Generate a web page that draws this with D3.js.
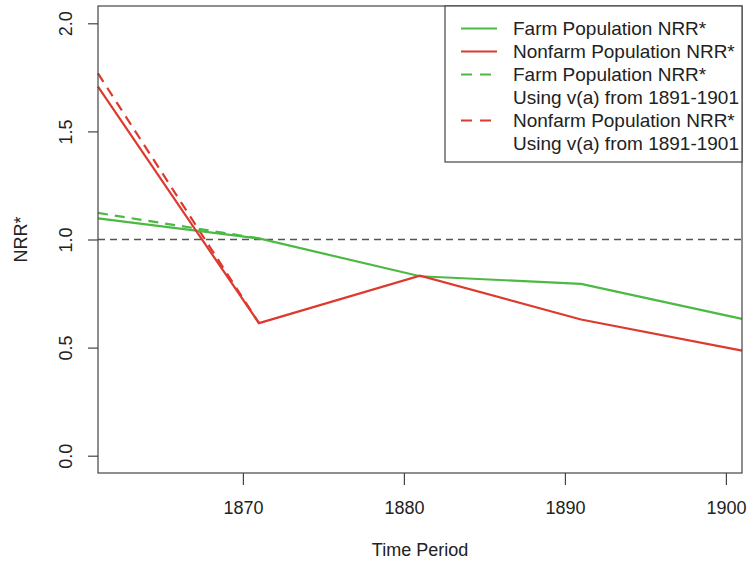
<!DOCTYPE html>
<html>
<head>
<meta charset="utf-8">
<title>NRR* by time period</title>
<script src="https://cdn.jsdelivr.net/npm/d3@7"></script>
<style>
  body { margin: 0; background: #fff; }
  svg text { font-family: "Liberation Sans", Arial, Helvetica, sans-serif; fill: #222; }
</style>
</head>
<body>
<svg id="chart" width="747" height="562"></svg>
<script>
// data
const years = [1861, 1871, 1881, 1891, 1901];
const farm = [1.098, 1.005, 0.830, 0.795, 0.633];
const nonfarm = [1.707, 0.613, 0.833, 0.630, 0.486];
// alternative v(a) series only differ in the first period
const altYears = [1861, 1871];
const farmAlt = [1.123, 1.005];
const nonfarmAlt = [1.768, 0.613];

const xTicks = [1870, 1880, 1890, 1900];
const yTicks = [0, 0.5, 1, 1.5, 2];
const legendRows = [
  { lines: ["Farm Population NRR*"], color: "#4cb944", dash: null },
  { lines: ["Nonfarm Population NRR*"], color: "#dd3a2f", dash: null },
  { lines: ["Farm Population NRR*", "Using v(a) from 1891-1901"], color: "#4cb944", dash: "11,8" },
  { lines: ["Nonfarm Population NRR*", "Using v(a) from 1891-1901"], color: "#dd3a2f", dash: "11,8" }
];

const green = "#4cb944", red = "#dd3a2f";
const plotL = 98, plotR = 742, plotT = 6, plotB = 473;

const svg = d3.select("#chart");

const x = d3.scaleLinear().domain([1861, 1901]).range([plotL, plotR]);
// R style 4% padding on y
const y = d3.scaleLinear().domain([-0.08, 2.08]).range([plotB, plotT]);

// axes
const xAxis = svg.append("g")
  .attr("transform", `translate(0,${plotB})`)
  .call(d3.axisBottom(x).tickValues(xTicks).tickFormat(d3.format("d")).tickSize(12).tickPadding(16));
xAxis.select(".domain").remove();
xAxis.selectAll("line").attr("stroke", "#444").attr("stroke-width", 1.2);
xAxis.selectAll("text").attr("font-size", 18).attr("font-family", null);

const yAxis = svg.append("g")
  .attr("transform", `translate(${plotL},0)`)
  .call(d3.axisLeft(y).tickValues(yTicks).tickFormat(d3.format(".1f")).tickSize(10));
yAxis.select(".domain").remove();
yAxis.selectAll("line").attr("stroke", "#444").attr("stroke-width", 1.2);
yAxis.selectAll("text")
  .attr("font-size", 18).attr("font-family", null)
  .attr("transform", "rotate(-90)")
  .attr("x", 0).attr("y", -26).attr("dy", 0)
  .attr("text-anchor", "middle");

// reference line at 1
svg.append("line")
  .attr("x1", x(1861)).attr("x2", x(1901))
  .attr("y1", y(1)).attr("y2", y(1))
  .attr("stroke", "#555").attr("stroke-width", 1.6)
  .attr("stroke-dasharray", "7,5");

const line = d3.line().x(d => x(d[0])).y(d => y(d[1]));
function drawSeries(xs, vals, color, dash) {
  svg.append("path")
    .datum(xs.map((yr, i) => [yr, vals[i]]))
    .attr("d", line)
    .attr("fill", "none")
    .attr("stroke", color)
    .attr("stroke-width", 2.2)
    .attr("stroke-dasharray", dash);
}
drawSeries(altYears, farmAlt, green, "10,7");
drawSeries(altYears, nonfarmAlt, red, "10,7");
drawSeries(years, farm, green, null);
drawSeries(years, nonfarm, red, null);

// plot frame
svg.append("rect")
  .attr("x", plotL).attr("y", plotT)
  .attr("width", plotR - plotL).attr("height", plotB - plotT)
  .attr("fill", "none").attr("stroke", "#444").attr("stroke-width", 1.2);

// axis titles
svg.append("text")
  .attr("x", (plotL + plotR) / 2).attr("y", 556)
  .attr("text-anchor", "middle").attr("font-size", 18)
  .text("Time Period");
svg.append("text")
  .attr("transform", `translate(27,${(plotT + plotB) / 2}) rotate(-90)`)
  .attr("text-anchor", "middle").attr("font-size", 18)
  .text("NRR*");

// legend
const legend = svg.append("g");
legend.append("rect")
  .attr("x", 445).attr("y", plotT)
  .attr("width", plotR - 445).attr("height", 162 - plotT)
  .attr("fill", "#fff").attr("stroke", "#444").attr("stroke-width", 1.2);
const rowH = 23;
let row = 0;
legendRows.forEach(item => {
  const ry = 28.5 + row * rowH;
  legend.append("line")
    .attr("x1", 461).attr("x2", 497)
    .attr("y1", ry).attr("y2", ry)
    .attr("stroke", item.color).attr("stroke-width", 2.2)
    .attr("stroke-dasharray", item.dash);
  item.lines.forEach((t, k) => {
    legend.append("text")
      .attr("x", 513).attr("y", ry + k * rowH)
      .attr("dy", "0.35em").attr("font-size", 19)
      .text(t);
  });
  row += item.lines.length;
});
</script>
</body>
</html>
